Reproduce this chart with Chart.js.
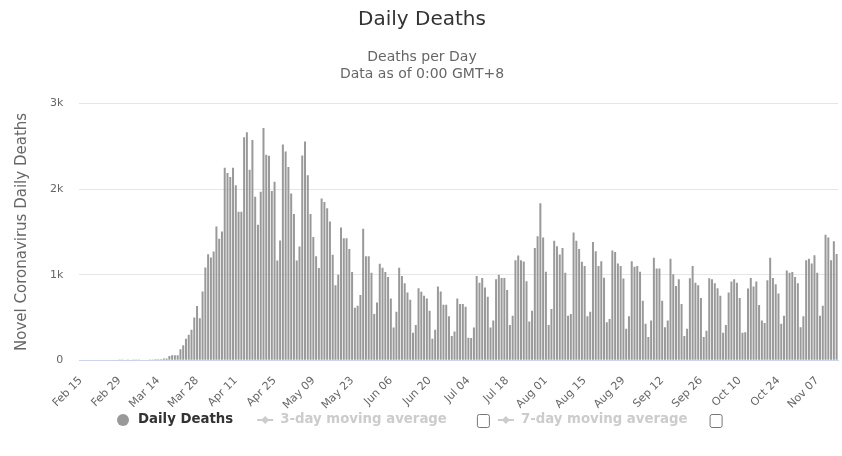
<!DOCTYPE html>
<html>
<head>
<meta charset="utf-8">
<title>Daily Deaths</title>
<script src="https://cdn.jsdelivr.net/npm/chart.js@4.4.1/dist/chart.umd.min.js"></script>
<style>
  html, body { margin: 0; padding: 0; background: #fff; }
  #wrap { width: 842px; height: 456px; position: relative; }
</style>
</head>
<body>
<div id="wrap"><canvas id="chart"></canvas></div>
<script>
// first day of the series, one bar per day
const START_DAY = '2020-02-15';

// labels shown on the x axis (every 14 days)
const TICK_LABELS = [
  'Feb 15', 'Feb 29', 'Mar 14', 'Mar 28', 'Apr 11', 'Apr 25', 'May 09',
  'May 23', 'Jun 06', 'Jun 20', 'Jul 04', 'Jul 18', 'Aug 01', 'Aug 15',
  'Aug 29', 'Sep 12', 'Sep 26', 'Oct 10', 'Oct 24', 'Nov 07',
];

// daily deaths, Feb 15 -> Nov 14
const DAILY_DEATHS = [
  0, 0, 0, 0, 0, 0, 0, 0, 0, 0, 0, 0, 0, 0,
  1, 1, 4, 1, 4, 1, 3, 2, 4, 4, 5, 7, 8, 10, 11, 12,
  20, 20, 50, 58, 58, 58, 127, 174, 250, 297, 355, 498, 633, 490, 803, 1085,
  1239, 1200, 1270, 1564, 1420, 1506,
  2250, 2189, 2143, 2250, 2046, 1737, 1737, 2606, 2664, 2228, 2575, 1911,
  1583, 1969, 2714, 2402,
  2390, 1977, 2085, 1166, 1401, 2521, 2440, 2259, 1950, 1710, 1166, 1328,
  2394, 2556, 2162, 1710, 1440, 1216, 1077, 1892, 1849, 1776, 1622, 1232,
  876, 1000, 1552, 1425, 1425, 1301, 1031, 614, 637, 761, 1537, 1216, 1216,
  1023, 540, 676,
  1127, 1081, 1031, 973, 722, 382, 568, 1081, 985, 900, 792, 707, 320, 413,
  842, 799, 753, 722, 579, 251, 355, 861, 803, 649, 649, 514, 282, 336, 722,
  656, 656, 625, 263, 259, 382, 985, 907, 961, 849, 741, 382, 463,
  946, 1000, 961, 961, 822, 413, 521, 1170, 1224, 1170, 1154, 923, 452, 579,
  1313, 1448, 1834, 1436, 1035, 413, 598, 1398, 1332, 1236, 1313, 1023, 521,
  540, 1494, 1398, 1301, 1151, 1100, 514, 568, 1382, 1274, 1100, 1158, 965,
  444, 483, 1282,
  1266, 1131, 1100, 954, 367, 514, 1158, 1093, 1100, 1035, 695, 425, 270,
  463, 1197, 1073, 1073, 695, 386, 463, 1185, 1004, 869, 946, 656, 282, 367,
  958, 1100, 907, 876, 726, 270, 344, 958, 946, 900, 842, 753, 320, 413,
  792, 919, 946, 907, 726, 320, 328, 838, 961, 861, 919, 645, 463, 436, 934,
  1197, 961, 888, 780, 425, 521, 1050, 1023, 1031, 973, 900, 386, 514, 1170,
  1185, 1131, 1228, 1023, 521, 637, 1467, 1436, 1170, 1390, 1243,
];

const Y_TICKS = [0, 1000, 2000, 3000];

const LEGEND_ITEMS = ['Daily Deaths', '3-day moving average', '7-day moving average'];

const MONTHS = ['Jan', 'Feb', 'Mar', 'Apr', 'May', 'Jun', 'Jul', 'Aug', 'Sep', 'Oct', 'Nov', 'Dec'];

function buildCategories(start, count) {
  const d = new Date(start + 'T12:00:00Z');
  const out = [];
  for (let i = 0; i < count; i++) {
    out.push(MONTHS[d.getUTCMonth()] + ' ' + String(d.getUTCDate()).padStart(2, '0'));
    d.setUTCDate(d.getUTCDate() + 1);
  }
  return out;
}

const categories = buildCategories(START_DAY, DAILY_DEATHS.length);

Chart.defaults.font.family = '"DejaVu Sans", Verdana, sans-serif';

// Highcharts-like legend at the bottom, with the two greyed-out
// moving average entries and their checkboxes.
const bottomLegend = {
  id: 'bottomLegend',
  afterDraw(chart) {
    const ctx = chart.ctx;
    const y = 420;
    ctx.save();
    ctx.font = 'bold 13.3px "DejaVu Sans"';
    ctx.textBaseline = 'middle';
    const w = LEGEND_ITEMS.map((t) => ctx.measureText(t).width);
    let x = 117;

    // Daily Deaths
    ctx.fillStyle = '#999999';
    ctx.beginPath();
    ctx.arc(x + 6, y, 6, 0, Math.PI * 2);
    ctx.fill();
    ctx.fillStyle = '#333333';
    ctx.fillText(LEGEND_ITEMS[0], x + 21, y);
    x += 21 + w[0] + 24;

    const avgItem = (label, width, gapAfter) => {
      ctx.strokeStyle = '#cccccc';
      ctx.lineWidth = 2;
      ctx.beginPath();
      ctx.moveTo(x, y);
      ctx.lineTo(x + 16, y);
      ctx.stroke();
      ctx.fillStyle = '#cccccc';
      ctx.beginPath();
      ctx.moveTo(x + 8, y - 4);
      ctx.lineTo(x + 12, y);
      ctx.lineTo(x + 8, y + 4);
      ctx.lineTo(x + 4, y);
      ctx.closePath();
      ctx.fill();
      ctx.fillText(label, x + 23, y);
      x += 23 + width + gapAfter;
      // checkbox
      ctx.fillStyle = '#ffffff';
      ctx.strokeStyle = '#767676';
      ctx.lineWidth = 1;
      ctx.beginPath();
      ctx.roundRect(x + 0.5, y - 5.5, 12, 13, 2);
      ctx.fill();
      ctx.stroke();
      x += 13 + 8;
    };
    avgItem(LEGEND_ITEMS[1], w[1], 30);
    avgItem(LEGEND_ITEMS[2], w[2], 22);
    ctx.restore();
  },
};

new Chart(document.getElementById('chart'), {
  type: 'bar',
  data: {
    labels: categories,
    datasets: [{
      label: LEGEND_ITEMS[0],
      data: DAILY_DEATHS,
      backgroundColor: '#999999',
      borderWidth: 0,
      barPercentage: 0.72,
      categoryPercentage: 1,
    }],
  },
  options: {
    responsive: true,
    maintainAspectRatio: false,
    animation: false,
    devicePixelRatio: 1,
    layout: { padding: { left: 6, right: 4, top: 0, bottom: 38 } },
    plugins: {
      legend: { display: false },
      tooltip: { enabled: false },
      title: {
        display: true,
        text: 'Daily Deaths',
        color: '#333333',
        font: { size: 20, weight: 'normal' },
        padding: { top: 8, bottom: 0 },
      },
      subtitle: {
        display: true,
        text: ['Deaths per Day', 'Data as of 0:00 GMT+8'],
        color: '#666666',
        font: { size: 14 },
        padding: { top: 17, bottom: 21 },
      },
    },
    scales: {
      x: {
        grid: { display: false },
        border: { display: true, color: '#ccd6eb', width: 1 },
        afterFit: (axis) => { axis.paddingRight = 0; },
        ticks: {
          autoSkip: false,
          minRotation: 45,
          maxRotation: 45,
          color: '#666666',
          font: { size: 11 },
          padding: 6,
          callback: (v, i) => (TICK_LABELS.includes(categories[i]) ? categories[i] : ''),
        },
      },
      y: {
        min: Y_TICKS[0],
        max: Y_TICKS[Y_TICKS.length - 1],
        afterBuildTicks: (axis) => { axis.ticks = Y_TICKS.map((v) => ({ value: v })); },
        grid: {
          drawTicks: false,
          color: (c) => (c.tick && c.tick.value === 0 ? 'rgba(0,0,0,0)' : '#e6e6e6'),
        },
        border: { display: false },
        ticks: {
          color: '#666666',
          font: { size: 11 },
          padding: 16,
          callback: (v) => (v === 0 ? '0' : v / 1000 + 'k'),
        },
        title: {
          display: true,
          text: 'Novel Coronavirus Daily Deaths',
          color: '#666666',
          font: { size: 15 },
          padding: { top: 7, bottom: 3 },
        },
      },
    },
  },
  plugins: [bottomLegend],
});
</script>
</body>
</html>
